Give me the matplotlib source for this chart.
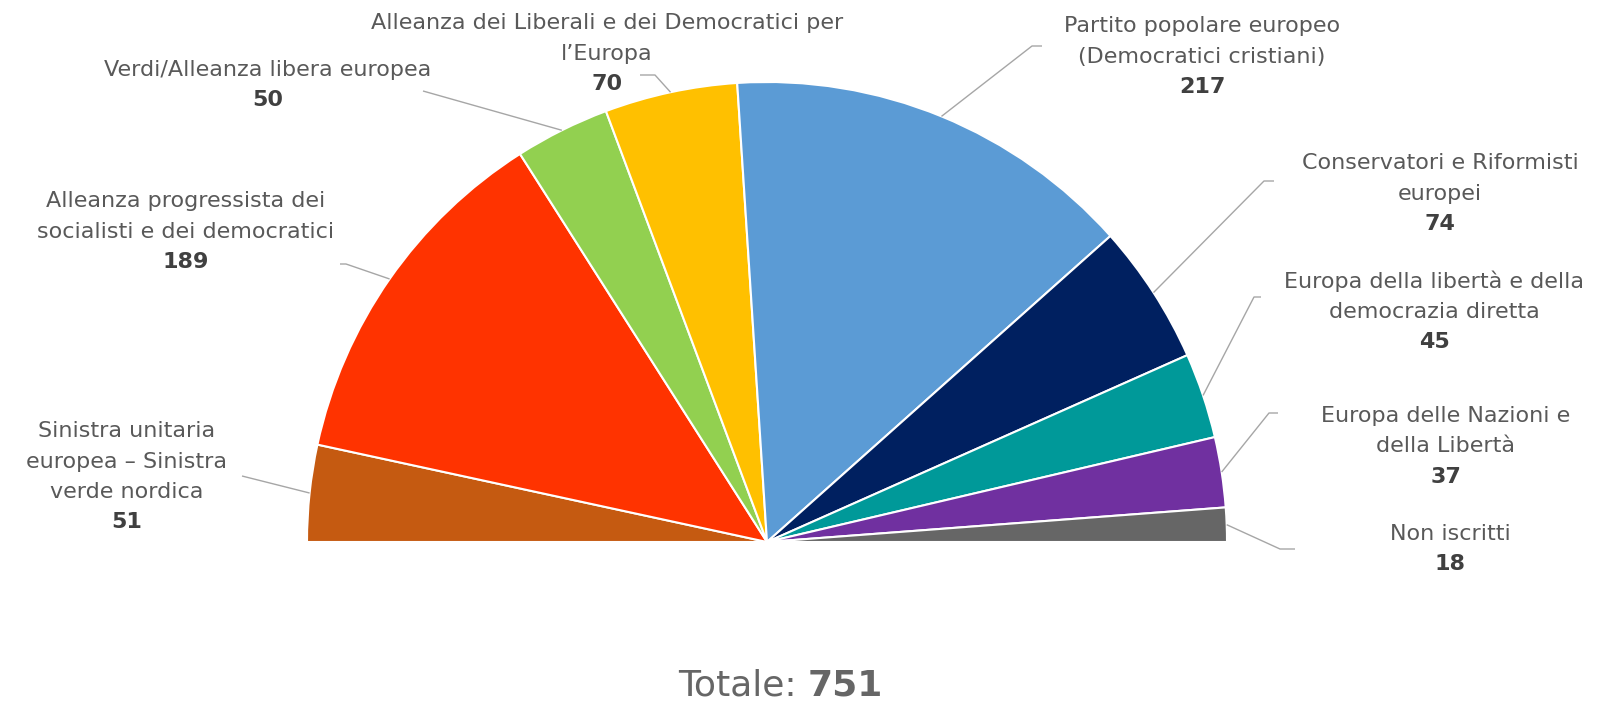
import matplotlib.pyplot as plt
import numpy as np

# gruppi del Parlamento europeo, da sinistra a destra
gruppi = [
    "Sinistra unitaria\neuropea \u2013 Sinistra\nverde nordica",
    "Alleanza progressista dei\nsocialisti e dei democratici",
    "Verdi/Alleanza libera europea",
    "Alleanza dei Liberali e dei Democratici per\nl\u2019Europa",
    "Partito popolare europeo\n(Democratici cristiani)",
    "Conservatori e Riformisti\neuropei",
    "Europa della libert\u00e0 e della\ndemocrazia diretta",
    "Europa delle Nazioni e\ndella Libert\u00e0",
    "Non iscritti",
]
seggi = [51, 189, 50, 70, 217, 74, 45, 37, 18]
colori = ["#C55A11", "#FF3300", "#92D050", "#FFC000", "#5B9BD5",
          "#002060", "#009999", "#7030A0", "#666666"]

W, H = 1618, 704
cx, cy, R = 767, 542, 460

# posizione etichette: centro x, y della prima riga
lab_pos = [(127, 431), (186, 201), (268, 70), (607, 23), (1202, 26),
           (1440, 163), (1434, 281), (1446, 416), (1450, 534)]
# gomito della linea guida e fine
elbow = [(242, 476), (346, 264), (423, 91), (655, 75), (1032, 46),
         (1264, 181), (1254, 297), (1269, 413), (1280, 549)]
line_end = [(242, 476), (340, 264), (423, 91), (640, 75), (1042, 46),
            (1274, 181), (1261, 297), (1278, 413), (1295, 549)]

fig = plt.figure(figsize=(W / 100, H / 100), dpi=100)
ax = fig.add_axes([0, 0, 1, 1])

tot = sum(seggi)
fr = [s / (2 * tot) for s in seggi]
wedges, _ = ax.pie(fr, normalize=False, colors=colori, center=(cx, cy), radius=R,
                   startangle=180, counterclock=True,
                   wedgeprops=dict(edgecolor="white", linewidth=1.5))

ax.set_xlim(0, W)
ax.set_ylim(H, 0)
ax.set_aspect("equal")
ax.axis("off")

step = 30.5
fs = 16
for i, w in enumerate(wedges):
    mid = np.deg2rad((w.theta1 + w.theta2) / 2)
    p0 = (cx + R * np.cos(mid), cy + R * np.sin(mid))
    ax.plot([p0[0], elbow[i][0], line_end[i][0]],
            [p0[1], elbow[i][1], line_end[i][1]],
            color="#A6A6A6", lw=1, solid_capstyle="butt")
    x, y = lab_pos[i]
    righe = gruppi[i].split("\n")
    for k, r in enumerate(righe):
        ax.text(x, y + k * step, r, ha="center", va="center",
                fontsize=fs, color="#595959")
    ax.text(x, y + len(righe) * step, str(seggi[i]), ha="center", va="center",
            fontsize=fs, color="#404040", fontweight="bold")

ax.text(808, 686, "Totale: ", ha="right", va="center", fontsize=26, color="#666666")
ax.text(808, 686, str(tot), ha="left", va="center", fontsize=26,
        color="#666666", fontweight="bold")

fig.savefig("out.png", dpi=100)
